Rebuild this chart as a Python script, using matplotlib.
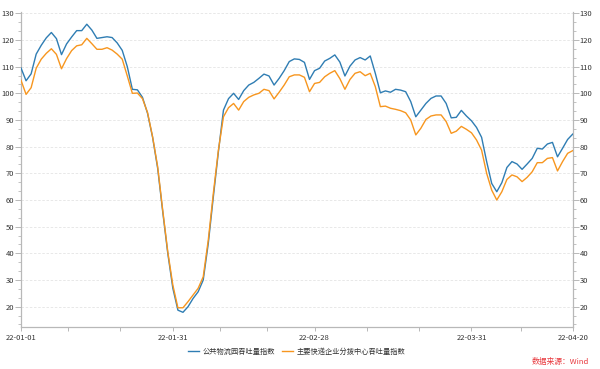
import numpy as np
import matplotlib
matplotlib.use("Agg")
import matplotlib.pyplot as plt
from matplotlib.ticker import MultipleLocator, FixedLocator

plt.rcParams['font.family'] = ['Noto Sans CJK SC', 'DejaVu Sans']

series_blue_name = "公共物流园吞吐量指数"
series_orange_name = "主要快递企业分拨中心吞吐量指数"

blue = [
    109.5, 104.7, 107.3, 114.7, 118.0, 120.8, 122.8, 120.5, 114.5, 118.5,
    121.1, 123.5, 123.5, 125.9, 123.7, 120.6, 120.9, 121.2, 120.9, 118.9,
    116.1, 110.0, 101.5, 101.3, 98.5, 92.5, 83.5, 71.9, 55.6, 40.0,
    26.9, 18.7, 17.9, 20.0, 23.1, 25.6, 30.0, 43.7, 61.2, 78.1,
    93.7, 98.0, 100.0, 97.7, 101.0, 103.1, 104.1, 105.6, 107.2, 106.5,
    103.1, 105.6, 108.5, 111.9, 112.9, 112.7, 111.6, 105.2, 108.5, 109.4,
    112.1, 113.1, 114.4, 111.7, 106.5, 110.2, 112.5, 113.4, 112.5, 114.0,
    107.5, 100.2, 100.9, 100.4, 101.5, 101.2, 100.6, 96.9, 91.2, 93.7,
    96.2, 98.1, 99.0, 99.0, 96.2, 90.8, 91.0, 93.6, 91.5, 89.7,
    87.2, 83.5, 74.4, 66.2, 63.1, 66.5, 72.2, 74.4, 73.5, 71.5,
    73.5, 75.6, 79.4, 79.1, 81.0, 81.6, 76.2, 79.4, 82.7, 84.7,
]

orange = [
    104.9, 99.6, 102.1, 109.4, 112.8, 115.0, 116.7, 114.6, 109.2, 113.0,
    116.0, 117.8, 118.2, 120.6, 118.6, 116.5, 116.5, 117.1, 116.2, 114.7,
    112.8, 106.5, 100.0, 100.1, 98.0, 92.8, 83.7, 72.5, 56.2, 40.6,
    28.1, 19.6, 19.6, 21.9, 24.4, 26.9, 31.2, 45.0, 62.5, 78.7,
    91.2, 94.6, 96.2, 93.7, 96.9, 98.5, 99.4, 100.0, 101.5, 101.0,
    97.9, 100.4, 103.1, 106.2, 106.9, 106.9, 106.0, 100.6, 103.7, 104.1,
    106.2, 107.5, 108.5, 105.5, 101.5, 105.2, 107.5, 108.1, 106.6, 107.5,
    102.5, 95.0, 95.2, 94.4, 94.0, 93.5, 92.7, 90.0, 84.4, 86.9,
    90.2, 91.5, 91.9, 91.9, 89.4, 85.0, 85.8, 87.6, 86.5, 85.2,
    82.5, 78.7, 70.0, 63.7, 60.0, 63.1, 67.7, 69.4, 68.7, 66.9,
    68.5, 70.6, 74.0, 74.0, 75.6, 75.9, 70.9, 74.4, 77.5, 78.5,
]

x_tick_days = [0, 30, 58, 89, 109]
x_tick_labels = ["22-01-01", "22-01-31", "22-02-28", "22-03-31", "22-04-20"]
x_minor_days = [9.35, 19.6, 39.3, 48.7, 68.3, 78.7, 98.8]
y_ticks = list(range(20, 131, 10))

source_text = "数据来源：Wind"

BLUE = "#2f7db3"
ORANGE = "#f7961f"
AXIS = "#b8b8b8"
TXT = "#333333"

fig = plt.figure(figsize=(6.0, 3.69), dpi=100)
ax = fig.add_axes([0.035, 0.1146, 0.9195, 0.853])

days = np.arange(len(blue))
ax.plot(days, blue, color=BLUE, lw=1.0, label=series_blue_name, zorder=3)
ax.plot(days, orange, color=ORANGE, lw=1.0, label=series_orange_name, zorder=3)

ax.set_xlim(0, 109)
ax.set_ylim(12.5, 130.5)

ax.set_yticks(y_ticks)
ax.yaxis.set_minor_locator(MultipleLocator(10 / 3))
ax.set_xticks(x_tick_days)
ax.set_xticklabels(x_tick_labels)
ax.xaxis.set_minor_locator(FixedLocator(x_minor_days))

ax.grid(axis='y', which='major', color='#e4e4e4', linestyle=(0, (3, 2)), lw=0.6, zorder=0)

ax.spines['top'].set_visible(False)
for s in ['left', 'right', 'bottom']:
    ax.spines[s].set_color(AXIS)
    ax.spines[s].set_linewidth(0.9)

ax.tick_params(axis='y', which='major', length=4, width=0.7, color=AXIS,
               labelsize=5.5, labelcolor=TXT, pad=1, left=True, right=True,
               labelleft=True, labelright=True)
ax.tick_params(axis='y', which='minor', length=2.5, width=0.6, color=AXIS,
               left=True, right=True)
ax.tick_params(axis='x', which='both', length=3, width=0.7, color=AXIS,
               labelsize=5.5, labelcolor=TXT, pad=2)

leg = fig.legend(loc='center', bbox_to_anchor=(0.494, 0.046), ncol=2, frameon=False,
                 fontsize=5.2, handlelength=1.6, handletextpad=0.4, columnspacing=1.0)
for t in leg.get_texts():
    t.set_color(TXT)

fig.text(0.982, 0.02, source_text, color="#e8383d", fontsize=5.6, ha='right', va='center')

fig.savefig("out.png", dpi=100)
